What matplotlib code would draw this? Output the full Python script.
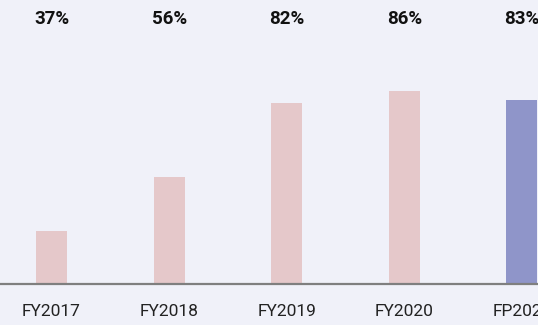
import matplotlib
matplotlib.use("Agg")
import matplotlib.pyplot as plt

# Share of revenue by fiscal period
periods = ["FY2017", "FY2018", "FY2019", "FY2020", "FP2021"]
shares = [37, 56, 82, 86, 83]
value_labels = ["37%", "56%", "82%", "86%", "83%"]

bg = "#f0f1f9"
pink = "#e5c8ca"
blue = "#8f95c9"
bar_colors = [pink, pink, pink, pink, blue]

plt.rcParams["font.family"] = ["Roboto", "DejaVu Sans"]

fig = plt.figure(figsize=(5.38, 3.25), dpi=100, facecolor=bg)
ax = fig.add_axes([0, 41.5 / 325, 1, 283.5 / 325])
ax.set_facecolor(bg)

x = list(range(len(periods)))
ax.bar(x, shares, width=0.264, color=bar_colors, bottom=0, zorder=2)

ax.set_xlim(-51.5 / 117.6, (538 - 51.5) / 117.6)
ax.set_ylim(18.5, 18.5 + 283.5 / 2.85)

for s in ["top", "right", "left"]:
    ax.spines[s].set_visible(False)
ax.spines["bottom"].set_color("#7f7f7f")
ax.spines["bottom"].set_linewidth(1.6)
ax.spines["bottom"].set_zorder(3)
ax.set_yticks([])
ax.set_xticks(x)
ax.set_xticklabels(periods, fontsize=12.5, color="#222222")
ax.tick_params(axis="x", length=0, pad=15)

for xi, lab in zip(x, value_labels):
    ax.text(xi, 1 - 19.5 / 283.5, lab, transform=ax.get_xaxis_transform(),
            ha="center", va="center", fontsize=13.5, fontweight="bold",
            color="#111111")

fig.savefig("out.png", dpi=100, facecolor=bg)
